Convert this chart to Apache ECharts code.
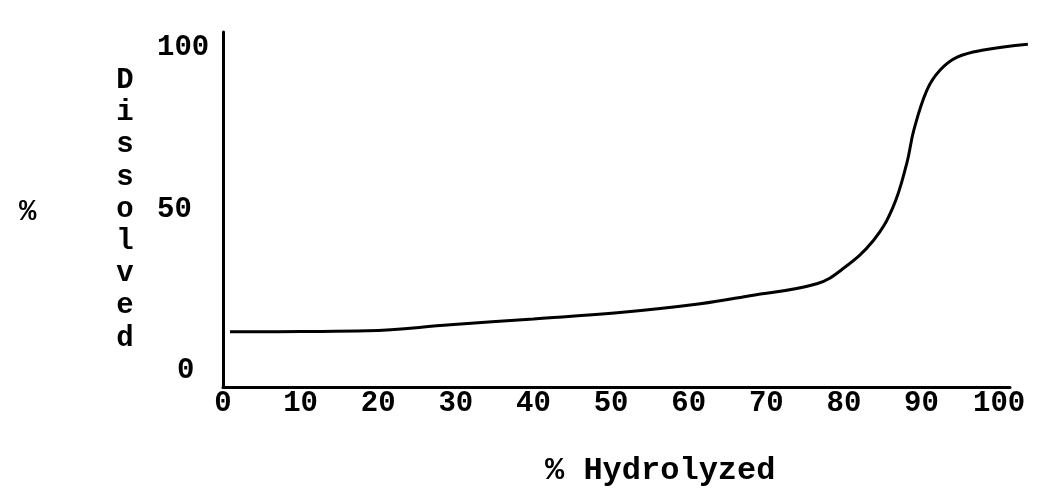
<!DOCTYPE html>
<html>
<head>
<meta charset="utf-8">
<script src="https://cdn.jsdelivr.net/npm/echarts@6/dist/echarts.min.js"></script>
<style>html,body{margin:0;padding:0;background:#fff}#c{width:1049px;height:490px}</style>
</head>
<body>
<div id="c"></div>
<script>
const hydrolyzed = [0.9, 10, 18.6, 29.3, 40, 50.8, 61.5, 67.9, 76.5, 79.9, 83.8, 86.3, 88.1, 89, 90.7, 92.4, 94.6, 98, 103.7];
const dissolved  = [12.1, 12.2, 12.4, 14.3, 16.1, 18, 20.8, 23.3, 27, 31.7, 40.4, 50.6, 64.3, 74.5, 87, 93.2, 97.2, 99.4, 101.2];
const xTickLabels = ['0','10','20','30','40','50','60','70','80','90','100'];
const yTickLabels = ['0','50','100'];
const xTitle = '% Hydrolyzed';
const yTitleLetters = 'Dissolved';
const yTitlePercent = '%';

const FONT = '"Liberation Mono", "DejaVu Sans Mono", monospace';
const LBL = 29;
// Axis frame grid: x 0..101.4 over 787 px; curve grid shares the same scale but extends to x=104
const AX_LEFT = 223, AX_W = 787, AX_MAX = 101.4, CURVE_MAX = 104;
const pxPerUnit = AX_W / AX_MAX;
const curveRight = 1049 - (AX_LEFT + CURVE_MAX * pxPerUnit);

const chart = echarts.init(document.getElementById('c'), null, {renderer:'canvas'});
chart.setOption({
  backgroundColor: '#fff',
  animation: false,
  title: [
    {text: xTitle, left: 540, top: 450, textStyle: {fontFamily: FONT, fontWeight: 'bold', fontSize: 32, color: '#000'}},
    {text: yTitlePercent, left: 14, top: 193, textStyle: {fontFamily: FONT, fontWeight: 'bold', fontSize: 29, color: '#000'}}
  ],
  grid: [
    {left: AX_LEFT, right: 1049 - AX_LEFT - AX_W, top: 32, bottom: 103, containLabel: false},
    {left: AX_LEFT, right: curveRight, top: 32, bottom: 103, containLabel: false}
  ],
  xAxis: [{
    gridIndex: 0, type: 'value', min: 0, max: AX_MAX, interval: 10,
    axisLine: {show: true, onZero: false, lineStyle: {color: '#000', width: 3}},
    axisTick: {show: false},
    splitLine: {show: false},
    axisLabel: {
      margin: 2, color: '#000', fontFamily: FONT, fontSize: LBL, fontWeight: 'bold',
      formatter: v => { const i = Math.round(v/10); return (Math.abs(v - i*10) < 1e-6 && xTickLabels[i] !== undefined) ? xTickLabels[i] : ''; }
    }
  }, {
    gridIndex: 1, type: 'value', min: 0, max: CURVE_MAX, show: false
  }],
  yAxis: [{
    gridIndex: 0, type: 'value', min: -5, max: 105, interval: 5,
    axisLine: {show: true, onZero: false, lineStyle: {color: '#000', width: 3}},
    axisTick: {show: false},
    splitLine: {show: false},
    name: yTitleLetters.split('').join('\n'),
    nameLocation: 'middle', nameGap: 98, nameRotate: 0,
    nameTextStyle: {fontFamily: FONT, fontWeight: 'bold', fontSize: 29, color: '#000', lineHeight: 32.2, align: 'center'},
    axisLabel: {
      margin: 66, align: 'left', color: '#000', fontFamily: FONT, fontSize: LBL, fontWeight: 'bold',
      formatter: v => {
        if (Math.abs(v) < 1e-6) return '{z|' + yTickLabels[0] + '}';
        if (Math.abs(v-50) < 1e-6) return yTickLabels[1];
        if (Math.abs(v-100) < 1e-6) return yTickLabels[2];
        return '';
      },
      rich: {z: {fontFamily: FONT, fontSize: LBL, fontWeight: 'bold', color: '#000', padding: [0,0,0,20]}}
    }
  }, {
    gridIndex: 1, type: 'value', min: -5, max: 105, show: false
  }],
  series: [{
    type: 'line',
    xAxisIndex: 1, yAxisIndex: 1,
    data: hydrolyzed.map((x,i) => [x, dissolved[i]]),
    smooth: 0.4,
    showSymbol: false,
    clip: false,
    lineStyle: {color: '#000', width: 3}
  }]
});
</script>
</body>
</html>
